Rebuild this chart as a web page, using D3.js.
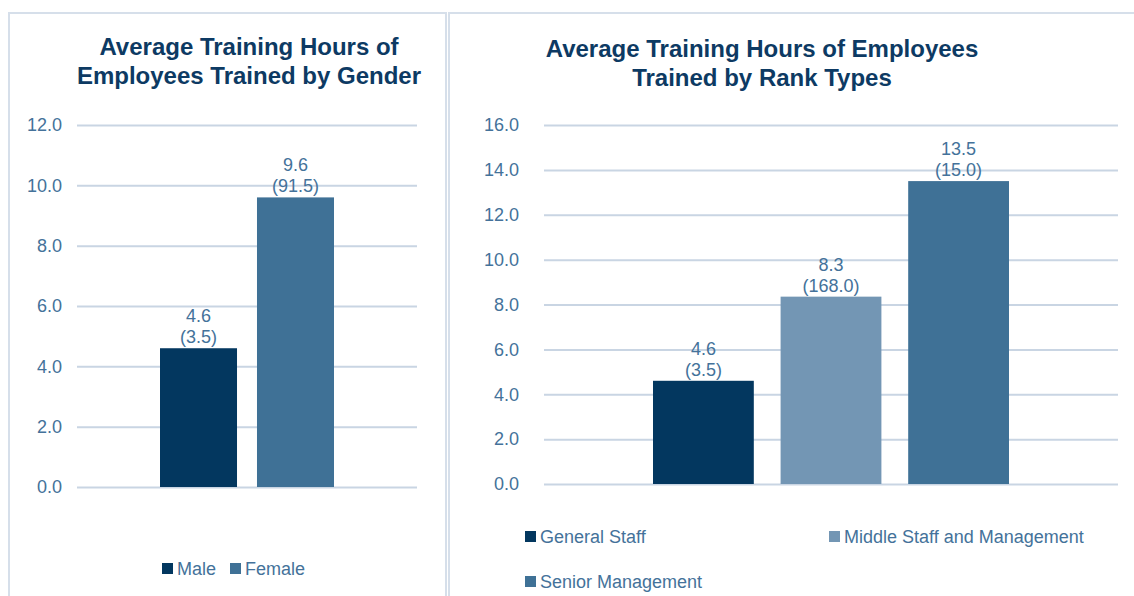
<!DOCTYPE html>
<html>
<head>
<meta charset="utf-8">
<script src="https://d3js.org/d3.v7.min.js"></script>
<style>
  body { margin: 0; background: #fff; }
  svg { display: block; font-family: "Liberation Sans", Arial, sans-serif; }
</style>
</head>
<body>
<div id="chart"></div>
<script>
// data
var genderCats = ["Male", "Female"],
    genderHours = [4.6, 9.6],
    genderLabels = ["4.6", "9.6"],
    genderParen = ["(3.5)", "(91.5)"],
    genderColors = ["#03375f", "#3f7196"];

var rankCats = ["General Staff", "Middle Staff and Management", "Senior Management"],
    rankHours = [4.6, 8.35, 13.5],
    rankLabels = ["4.6", "8.3", "13.5"],
    rankParen = ["(3.5)", "(168.0)", "(15.0)"],
    rankColors = ["#03375f", "#7396b4", "#3f7196"];

var genderTicks = [0, 2, 4, 6, 8, 10, 12],
    rankTicks = [0, 2, 4, 6, 8, 10, 12, 14, 16];

var txtColor = "#44729a", titleColor = "#0d3a63", gridColor = "#c9d5e3";

var svg = d3.select("#chart").append("svg")
    .attr("width", 1134)
    .attr("height", 596);

// panel frames
svg.append("rect").attr("x", 9).attr("y", 13).attr("width", 437).attr("height", 600)
   .attr("fill", "none").attr("stroke", "#d6dfea").attr("stroke-width", 2);
svg.append("rect").attr("x", 449).attr("y", 13).attr("width", 700).attr("height", 600)
   .attr("fill", "none").attr("stroke", "#d6dfea").attr("stroke-width", 2);

function drawChart(opt) {
  var g = svg.append("g");

  // title
  var t = g.append("text")
      .attr("text-anchor", "middle")
      .attr("fill", titleColor)
      .style("font-weight", "bold")
      .style("font-size", "24px");
  opt.title.forEach(function(line, i) {
    t.append("tspan").attr("x", opt.titleX).attr("y", opt.titleY + i * 29).text(line);
  });

  var y = d3.scaleLinear().domain([0, d3.max(opt.ticks)]).range([opt.y0, opt.y1]);
  var x = d3.scaleBand().domain(opt.cats).range([opt.bx0, opt.bx1]).paddingInner(opt.pad).paddingOuter(0);

  // gridlines + tick labels
  var yAxis = d3.axisLeft(y).tickValues(opt.ticks)
      .tickSize(-(opt.gx1 - opt.gx0))
      .tickPadding(opt.tickPad)
      .tickFormat(d3.format(".1f"));
  var ax = g.append("g").attr("transform", "translate(" + opt.gx0 + ",0)").call(yAxis);
  ax.select(".domain").remove();
  ax.selectAll(".tick line").attr("stroke", gridColor).attr("stroke-width", 2);
  ax.selectAll(".tick text").attr("fill", txtColor).style("font-size", "18px")
      .style("font-family", "'Liberation Sans', Arial, sans-serif");

  // bars
  g.selectAll("rect.bar").data(opt.cats).enter().append("rect")
      .attr("class", "bar")
      .attr("x", function(d) { return x(d); })
      .attr("width", x.bandwidth())
      .attr("y", function(d, i) { return y(opt.vals[i]); })
      .attr("height", function(d, i) { return opt.y0 - y(opt.vals[i]); })
      .attr("fill", function(d, i) { return opt.colors[i]; });

  // labels
  var lab = g.selectAll("text.lab").data(opt.cats).enter().append("text")
      .attr("class", "lab")
      .attr("text-anchor", "middle")
      .attr("fill", txtColor)
      .style("font-size", "18px");
  lab.append("tspan")
      .attr("x", function(d) { return x(d) + x.bandwidth() / 2; })
      .attr("y", function(d, i) { return y(opt.vals[i]) - 26; })
      .text(function(d, i) { return opt.labels[i]; });
  lab.append("tspan")
      .attr("x", function(d) { return x(d) + x.bandwidth() / 2; })
      .attr("y", function(d, i) { return y(opt.vals[i]) - 5; })
      .text(function(d, i) { return opt.paren[i]; });

  // legend
  var lg = g.selectAll("g.leg").data(opt.cats).enter().append("g")
      .attr("class", "leg")
      .attr("transform", function(d, i) { return "translate(" + opt.legPos[i][0] + "," + opt.legPos[i][1] + ")"; });
  lg.append("rect").attr("x", 0).attr("y", -12).attr("width", 11).attr("height", 11)
      .attr("fill", function(d, i) { return opt.colors[i]; });
  lg.append("text").attr("x", 15).attr("y", 0).attr("fill", txtColor)
      .style("font-size", "18px").text(function(d) { return d; });
}

drawChart({
  title: ["Average Training Hours of", "Employees Trained by Gender"],
  titleX: 249, titleY: 55,
  cats: genderCats, vals: genderHours, labels: genderLabels, paren: genderParen, colors: genderColors,
  ticks: genderTicks,
  y0: 487, y1: 125,
  gx0: 77, gx1: 417, tickPad: 15,
  bx0: 160, bx1: 334, pad: 0.206,
  legPos: [[162, 575], [230, 575]]
});

drawChart({
  title: ["Average Training Hours of Employees", "Trained by Rank Types"],
  titleX: 762, titleY: 57,
  cats: rankCats, vals: rankHours, labels: rankLabels, paren: rankParen, colors: rankColors,
  ticks: rankTicks,
  y0: 484, y1: 125,
  gx0: 544, gx1: 1118, tickPad: 25,
  bx0: 653, bx1: 1009, pad: 0.21,
  legPos: [[525, 543], [829, 543], [525, 588]]
});
</script>
</body>
</html>
